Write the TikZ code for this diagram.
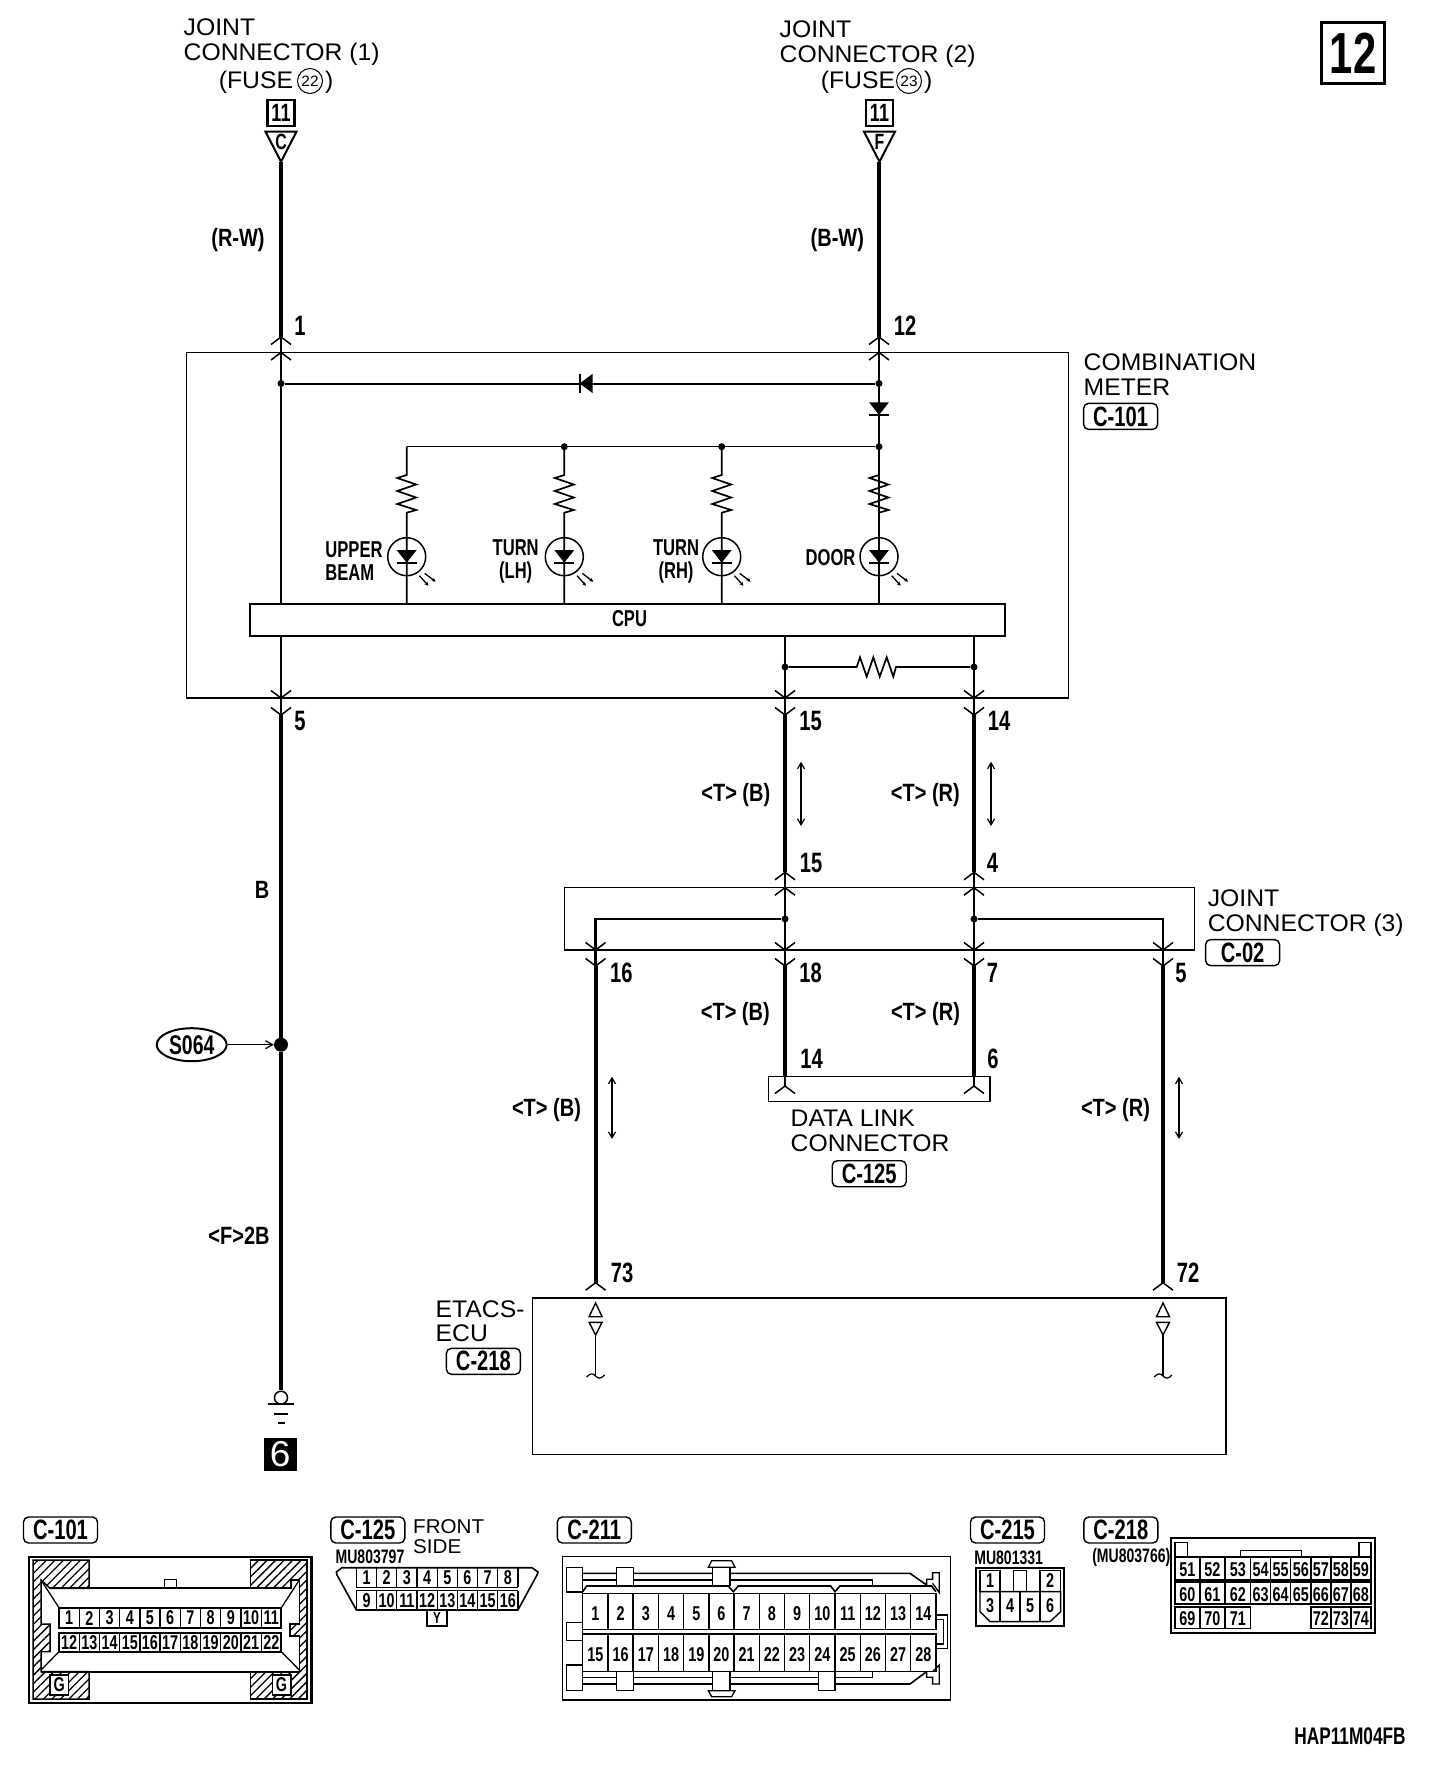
\documentclass[tikz,border=0pt]{standalone}
\usepackage{fontspec}
\setmainfont[FakeStretch=1.03]{Liberation Sans}
\newfontfamily\pinfont[FakeStretch=.72]{Liberation Sans}
\newfontfamily\wirefont[FakeStretch=.8]{Liberation Sans}
\usetikzlibrary{arrows.meta,patterns.meta,shapes.geometric}
\newcommand{\pxsize}[1]{\fontsize{#1}{#1}\selectfont}
\newcommand{\pinup}[2]{\draw[chev] (#1-10,#2+7.5) -- (#1,#2) -- (#1+10,#2+7.5);}
\newcommand{\pindown}[2]{\draw[chev] (#1-10,#2-7.5) -- (#1,#2) -- (#1+10,#2-7.5);}
\tikzset{
	nametext/.style={font=\pxsize{24},anchor=base west,inner sep=0pt},
	pinlab/.style={font=\pinfont\bfseries\pxsize{28},inner sep=0pt},
	wirelab/.style={font=\wirefont\bfseries\pxsize{25},inner sep=0pt},
	lamplab/.style={font=\pinfont\bfseries\pxsize{23},inner sep=0pt},
	cellnum/.style={font=\pinfont\bfseries\pxsize{20},inner sep=0pt},
	partnum/.style={font=\pinfont\bfseries\pxsize{19.5},inner sep=0pt},
	badge/.style={draw,line width=1.4pt,rounded corners=5pt,inner sep=0pt,minimum width=74pt,minimum height=26pt,font=\pinfont\bfseries\pxsize{28}},
	thinbox/.style={draw,line width=1.3pt,inner sep=0pt},
	wirein/.style={line width=2.4pt},
	wireout/.style={line width=3.8pt},
	chev/.style={line width=1.5pt},
	spot/.style={fill,circle,inner sep=0pt,minimum size=7pt},
	twoway/.style={line width=1.2pt,{Straight Barb[length=6pt,width=7pt]}-{Straight Barb[length=6pt,width=7pt]}},
	outline/.style={line width=1.3pt},
	hatched/.style={line width=1.5pt,pattern={Lines[angle=45,distance=6pt,line width=1.3pt]}},
}
\begin{document}
\begin{tikzpicture}[x=1pt,y=-1pt]
	\useasboundingbox (0,0) rectangle (1440,1768);

	% page number
	\node[draw,line width=2.5pt,inner sep=0pt,minimum width=63pt,minimum height=61pt,font=\pinfont\bfseries\pxsize{58}] (sheet) at (1353,53) {12};

	% sources
	\node[nametext] (joint1a) at (183.5,36) {JOINT};
	\node[nametext] (joint1b) at (183.5,61) {CONNECTOR (1)};
	\node[nametext] (joint1c) at (218.7,89) {(FUSE};
	\node[draw,circle,line width=1pt,inner sep=0pt,minimum size=25pt,font=\pxsize{15}] (fuse22) at (310,81) {22};
	\node[nametext] (joint1d) at (325,89) {)};
	\node[nametext] (joint2a) at (779.5,38) {JOINT};
	\node[nametext] (joint2b) at (779.5,63) {CONNECTOR (2)};
	\node[nametext] (joint2c) at (820.7,89) {(FUSE};
	\node[draw,circle,line width=1pt,inner sep=0pt,minimum size=25pt,font=\pxsize{15}] (fuse23) at (909,81) {23};
	\node[nametext] (joint2d) at (924,89) {)};
	\foreach \x/\m/\t in {281/a/C,879.5/b/F} {
		\node[draw,line width=2.5pt,inner sep=0pt,minimum width=27pt,minimum height=26pt,font=\pinfont\bfseries\pxsize{25}] (page\m) at (\x,113) {11};
		\draw[line width=2pt] (\x-15.5,131.7) -- (\x+15.5,131.7) -- (\x,161.7) -- cycle;
		\node[font=\pinfont\bfseries\pxsize{22},inner sep=0pt] (feed\m) at (\x,142) {\t};
	}
	\coordinate (fa) at (281,161.7);
	\coordinate (fb) at (879,161.7);
	\coordinate (pa) at (281,337);
	\coordinate (pb) at (879,337);
	\coordinate (pc) at (281,715);
	\coordinate (pd) at (785,715);
	\coordinate (pe) at (974,715);
	\draw[wireout] (fa) -- (pa);
	\draw[wireout] (fb) -- (pb);
	\node[wirelab] (colA) at (238,240) {(R-W)};
	\node[wirelab] (colB) at (837.3,240) {(B-W)};
	\node[pinlab] (pin1) at (300,326) {1};
	\node[pinlab] (pin12) at (905,326) {12};

	% combination meter
	\node[thinbox,minimum width=882pt,minimum height=345.5pt] (meter) at (627.6,525.2) {};
	\node[draw,line width=2pt,inner sep=0pt,minimum width=755.6pt,minimum height=32pt,font=\pinfont\bfseries\pxsize{23}] (cpu) at (627.5,619.7) {};
	\node[font=\pinfont\bfseries\pxsize{23},inner sep=0pt] (cpuname) at (629.5,618.5) {CPU};
	\node[nametext] (meterA) at (1083.5,370) {COMBINATION};
	\node[nametext] (meterB) at (1083.5,395) {METER};
	\node[badge] (b101) at (1120.6,416.4) {C-101};
	\foreach \x in {281,879} {
		\pinup{\x}{337}
		\pinup{\x}{352.5}
	}
	\foreach \x in {281,785,974} {
		\pindown{\x}{698}
		\pindown{\x}{715}
	}
	\node[spot] (ja) at (281,383.5) {};
	\node[spot] (jb) at (879,383.5) {};
	\draw[wirein] (pa) -- (pa |- cpu.north);
	\draw[wirein] (pb) -- (pb |- cpu.north);
	\draw[wirein] (pa |- cpu.south) -- (pc);
	\draw[wirein] (pd |- cpu.south) -- (pd);
	\draw[wirein] (pe |- cpu.south) -- (pe);
	\draw[line width=2pt] (ja) -- (jb);
	\fill (579.7,383.5) -- (592.7,373.8) -- (592.7,393.2) -- cycle;
	\draw[line width=2pt] (579.7,373.8) -- (579.7,393.2);
	\fill (869,402.3) -- (889,402.3) -- (879,415) -- cycle;
	\draw[line width=2pt] (869,415.3) -- (889,415.3);
	\coordinate (busL) at (406.7,446.7);
	\node[spot] (busR) at (879,446.7) {};
	\draw[line width=1.4pt] (busL) -- (busR);
	\foreach \x/\m in {406.7/ub,564.3/tl,721.7/tr,879/dr} {
		\draw[line width=1.7pt] (\x,446.7) -- (\x,475) -- (\x-9.5,478) -- (\x+9.5,484.5) -- (\x-9.5,491) -- (\x+9.5,497.5) -- (\x-9.5,504) -- (\x+9.5,510) -- (\x,512.7) -- (\x,603.7);
		\node[draw,circle,line width=1.5pt,inner sep=0pt,minimum size=38pt] (lamp\m) at (\x,556.7) {};
		\fill (\x-10,550) -- (\x+10,550) -- (\x,562.7) -- cycle;
		\draw[line width=2pt] (\x-10,562.7) -- (\x+10,562.7);
		\draw[line width=1.3pt,-{Stealth[length=4pt,width=4pt]}] (\x+12.7,575.7) -- (\x+21.7,585.7);
		\draw[line width=1.3pt,-{Stealth[length=4pt,width=4pt]}] (\x+18,573.4) -- (\x+29,581.7);
	}
	\node[spot] (jc) at (564.3,446.7) {};
	\node[spot] (jd) at (721.7,446.7) {};
	\node[lamplab,align=left] (labUB) at (354,561) {UPPER\\BEAM};
	\node[lamplab,align=center] (labTL) at (515.7,561) {TURN\\(LH)};
	\node[lamplab,align=center] (labTR) at (676,561) {TURN\\(RH)};
	\node[lamplab] (labDR) at (830.5,558) {DOOR};
	\node[spot] (je) at (785,667) {};
	\node[spot] (jf) at (974,667) {};
	\draw[line width=1.7pt] (je) -- (856.7,667) -- (860,657.3) -- (866.7,676.7) -- (873.3,657.3) -- (879.7,676.7) -- (886.7,657.3) -- (893.3,676.7) -- (896,667) -- (jf);
	\node[pinlab] (pin5) at (300,721) {5};
	\node[pinlab] (pin15) at (810.5,721) {15};
	\node[pinlab] (pin14) at (999,721) {14};

	% ground side
	\node[fill,circle,inner sep=0pt,minimum size=14pt] (splice) at (281,1044.7) {};
	\node[draw,circle,fill=white,line width=1.5pt,inner sep=0pt,minimum size=13pt] (ring) at (281,1397.7) {};
	\draw[wireout] (pc) -- (splice) -- (ring.north);
	\node[wirelab] (colC) at (262,890) {B};
	\node[draw,ellipse,line width=2pt,inner sep=0pt,minimum width=70pt,minimum height=33pt,font=\pinfont\bfseries\pxsize{27}] (s064) at (191.7,1044.7) {S064};
	\draw[line width=1.3pt,-{Straight Barb[length=7pt,width=8pt]}] (s064) -- (splice);
	\node[wirelab] (colD) at (239,1236) {<F>2B};
	\draw[line width=1.5pt] (268,1404) -- (294,1404);
	\draw[line width=1.8pt] (274,1413.7) -- (288,1413.7);
	\draw[line width=1.8pt] (278,1422.7) -- (285,1422.7);
	\node[fill=black,text=white,inner sep=0pt,minimum width=32.7pt,minimum height=32.7pt,font=\pxsize{36}] (gnd6) at (280.3,1454.3) {6};

	% joint connector 3
	\node[thinbox,minimum width=630pt,minimum height=62.3pt] (joint3) at (879.5,918.9) {};
	\coordinate (qd) at (785,872.3);
	\coordinate (qe) at (974,872.3);
	\coordinate (qa) at (595.6,966);
	\coordinate (qb) at (785,966);
	\coordinate (qc) at (974,966);
	\coordinate (qf) at (1163,966);
	\draw[wireout] (pd) -- (qd);
	\draw[wireout] (pe) -- (qe);
	\foreach \x in {785,974} {
		\pinup{\x}{872.3}
		\pinup{\x}{887.7}
	}
	\foreach \x in {595.6,785,974,1163} {
		\pindown{\x}{950}
		\pindown{\x}{966}
	}
	\node[spot] (jg) at (785,919) {};
	\node[spot] (jh) at (974,919) {};
	\draw[wirein] (qd) -- (qb);
	\draw[wirein] (qe) -- (qc);
	\draw[wirein] (jg) -| (qa);
	\draw[wirein] (jh) -| (qf);
	\node[wirelab] (colE) at (735.8,795.5) {<T> (B)};
	\node[wirelab] (colF) at (925.4,795.5) {<T> (R)};
	\draw[twoway] (801,761.7) -- (801,826);
	\draw[twoway] (991,761.7) -- (991,826);
	\node[pinlab] (pin15b) at (811,862.7) {15};
	\node[pinlab] (pin4) at (992.4,862.7) {4};
	\node[nametext] (joint3a) at (1207.6,906) {JOINT};
	\node[nametext] (joint3b) at (1207.6,931) {CONNECTOR (3)};
	\node[badge] (b02) at (1242.6,952.6) {C-02};
	\node[pinlab] (pin16) at (621.4,972.7) {16};
	\node[pinlab] (pin18) at (810.6,972.7) {18};
	\node[pinlab] (pin7) at (992.4,972.7) {7};
	\node[pinlab] (pin5b) at (1181,972.7) {5};

	% data link connector
	\node[thinbox,minimum width=221.5pt,minimum height=25.4pt] (dlc) at (879.2,1089) {};
	\coordinate (ra) at (785,1076.3);
	\coordinate (rb) at (974,1076.3);
	\coordinate (rc) at (785,1086);
	\coordinate (rd) at (974,1086);
	\draw[wireout] (qb) -- (ra);
	\draw[wireout] (qc) -- (rb);
	\draw[wirein] (ra) -- (rc);
	\draw[wirein] (rb) -- (rd);
	\pinup{785}{1086}
	\pinup{974}{1086}
	\node[wirelab] (colG) at (735.3,1014.5) {<T> (B)};
	\node[wirelab] (colH) at (925.5,1014.5) {<T> (R)};
	\node[pinlab] (pin14b) at (811.5,1059) {14};
	\node[pinlab] (pin6) at (993,1059) {6};
	\node[nametext] (dlcA) at (790.5,1126.7) {DATA LINK};
	\node[nametext] (dlcB) at (790.5,1151.7) {CONNECTOR};
	\node[badge] (b125) at (869.2,1173.7) {C-125};

	% etacs ecu
	\coordinate (sa) at (595.6,1282.7);
	\coordinate (sb) at (1163,1282.7);
	\draw[wireout] (qa) -- (sa);
	\draw[wireout] (qf) -- (sb);
	\pinup{595.6}{1282.7}
	\pinup{1163}{1282.7}
	\node[wirelab] (colI) at (546.5,1110) {<T> (B)};
	\node[wirelab] (colJ) at (1115.5,1110) {<T> (R)};
	\draw[twoway] (612,1076.7) -- (612,1139);
	\draw[twoway] (1179,1076.7) -- (1179,1139);
	\node[pinlab] (pin73) at (622,1273) {73};
	\node[pinlab] (pin72) at (1188,1273) {72};
	\node[thinbox,line width=1.6pt,minimum width=693.5pt,minimum height=156.6pt] (ecu) at (879.2,1376) {};
	\node[nametext] (ecuA) at (435.5,1317) {ETACS-};
	\node[nametext] (ecuB) at (435.5,1341.5) {ECU};
	\node[badge] (b218) at (483.4,1361.3) {C-218};
	\foreach \x in {595.6,1163} {
		\draw[line width=1.4pt] (\x-6.5,1316.7) -- (\x+6.5,1316.7) -- (\x,1303) -- cycle;
		\draw[line width=1.4pt] (\x-6.5,1322.3) -- (\x+6.5,1322.3) -- (\x,1335) -- cycle;
		\draw[line width=1.2pt] (\x,1335) -- (\x,1376);
		\draw[line width=1.2pt] (\x-9,1377) .. controls (\x-5,1373) and (\x-3,1373) .. (\x,1376) .. controls (\x+3,1379) and (\x+5,1379) .. (\x+9,1375);
	}

	% connector C-101
	\node[badge] (v101) at (60.5,1530) {C-101};
	\draw[line width=2.2pt] (28.6,1556.7) rectangle (311.4,1702.7);
	\draw[hatched] (33,1560) -- (89,1560) -- (89,1588.3) -- (50,1588.3) -- (41,1580) -- (41,1624) -- (50,1624) -- (50,1651.7) -- (41,1651.7) -- (41,1671.7) -- (89,1671.7) -- (89,1699) -- (33,1699) -- cycle;
	\draw[hatched] (250.7,1560) -- (307,1560) -- (307,1699) -- (250.7,1699) -- (250.7,1671.7) -- (299.3,1671.7) -- (299.3,1636) -- (290,1636) -- (290,1624) -- (299.3,1624) -- (299.3,1580) -- (291,1580) -- (291,1588.3) -- (250.7,1588.3) -- cycle;
	\draw[outline] (164.3,1588.3) -- (164.3,1579.3) -- (176.8,1579.3) -- (176.8,1588.3);
	\draw[line width=2pt] (50,1588.3) -- (291,1588.3);
	\draw[line width=2pt] (41,1671.7) -- (299.3,1671.7);
	\draw[outline] (41,1580) -- (59,1607.7);
	\draw[outline] (299.3,1580) -- (281.4,1607.7);
	\draw[outline] (59,1651.7) -- (41,1670);
	\draw[outline] (281.4,1651.7) -- (299.3,1670);
	\draw[line width=2pt] (59,1607.7) rectangle (281.4,1628.3);
	\draw[line width=2pt] (59,1632.7) rectangle (281.4,1651.7);
	\foreach \n [count=\i from 0] in {1,...,11} {
		\ifnum\i>0 \draw[outline] (59+\i*20.22,1607.7) -- (59+\i*20.22,1628.3); \fi
		\node[cellnum] (ca\n) at (69.1+\i*20.22,1618) {\n};
	}
	\foreach \n [count=\i from 0] in {12,...,22} {
		\ifnum\i>0 \draw[outline] (59+\i*20.22,1632.7) -- (59+\i*20.22,1651.7); \fi
		\node[cellnum] (ca\n) at (69.1+\i*20.22,1642.2) {\n};
	}
	\node[draw,fill=white,line width=1.5pt,inner sep=0pt,minimum width=18.5pt,minimum height=20pt,font=\pinfont\bfseries\pxsize{20}] (g1) at (59.3,1685) {G};
	\node[draw,fill=white,line width=1.5pt,inner sep=0pt,minimum width=18.5pt,minimum height=20pt,font=\pinfont\bfseries\pxsize{20}] (g2) at (281.5,1685) {G};

	% connector C-125
	\node[badge] (v125) at (367.8,1530) {C-125};
	\node[font=\pxsize{20},anchor=base west,inner sep=0pt] (frontA) at (413,1533.5) {FRONT};
	\node[font=\pxsize{20},anchor=base west,inner sep=0pt] (frontB) at (413,1553) {SIDE};
	\node[partnum] (mu797) at (370,1556.7) {MU803797};
	\draw[line width=1.6pt] (356.4,1610) -- (337,1575) -- (336.4,1572) -- (342,1567.7) -- (532,1567.7) -- (538,1572) -- (537,1575) -- (517.9,1610) -- cycle;
	\draw[outline] (356.4,1587.3) -- (517.9,1587.3);
	\draw[outline] (356.4,1590.7) -- (517.9,1590.7);
	\foreach \n [count=\i from 0] in {1,...,8} {
		\draw[outline] (356.4+\i*20.19,1567.7) -- (356.4+\i*20.19,1587.3);
		\node[cellnum] (cb\n) at (366.5+\i*20.19,1577.5) {\n};
	}
	\draw[outline] (517.9,1567.7) -- (517.9,1587.3);
	\foreach \n [count=\i from 0] in {9,...,16} {
		\draw[outline] (356.4+\i*20.19,1590.7) -- (356.4+\i*20.19,1610);
		\node[cellnum] (cb\n) at (366.5+\i*20.19,1600.5) {\n};
	}
	\draw[outline] (517.9,1590.7) -- (517.9,1610);
	\node[draw,line width=1.5pt,inner sep=0pt,minimum width=20.2pt,minimum height=16pt,font=\pinfont\bfseries\pxsize{16}] (tabY) at (436.9,1618) {Y};

	% connector C-211
	\node[badge] (v211) at (594.3,1530) {C-211};
	\begin{scope}[shift={(540,1480)},x=.3333pt,y=-.3333pt]
		\draw[outline] (68,230) rectangle (1232,660);
		\draw[line width=1.6pt] (128,280) -- (1110,280) -- (1160,315);
		\draw[line width=1.6pt] (128,300) -- (998,300) -- (998,318);
		\draw[line width=1.6pt] (128,593) -- (998,593) -- (998,575);
		\draw[line width=1.6pt] (128,612) -- (1110,612) -- (1160,575);
		\draw[outline,fill=white] (518,318) -- (518,262) -- (570,262) -- (570,318);
		\draw[outline,fill=white] (518,575) -- (518,632) -- (570,632) -- (570,575);
		\draw[outline] (505,262) -- (515,242) -- (575,242) -- (585,262) -- cycle;
		\draw[outline] (505,632) -- (515,650) -- (575,650) -- (585,632) -- cycle;
		\foreach \a/\b/\c/\d in {80/262/128/336,230/262/280/318,80/428/128/482,80/555/128/632,230/575/280/632,835/575/885/632} {
			\draw[outline,fill=white] (\a,\b) rectangle (\c,\d);
		}
		\draw[line width=1.6pt] (128,335) -- (140,318) -- (565,318) -- (580,335) -- (595,318) -- (872,318) -- (885,335) -- (900,318) -- (1175,318) -- (1188,335);
		\draw[line width=1.6pt] (128,340) rectangle (1188,448);
		\draw[line width=1.6pt] (128,462) rectangle (1188,575);
		\draw[outline] (1188,405) -- (1222,405) -- (1222,505) -- (1188,505);
		\draw[outline] (1188,418) -- (1210,418) -- (1210,492) -- (1188,492);
		\draw[outline] (1160,315) -- (1160,298) -- (1178,298) -- (1178,278) -- (1198,278) -- (1198,338) -- (1178,310);
		\draw[outline] (1160,575) -- (1160,592) -- (1178,592) -- (1178,612) -- (1198,612) -- (1198,555) -- (1178,575);
		\foreach \n [count=\i from 0] in {1,...,14} {
			\ifnum\i>0 \draw[line width=1.4pt] (128+\i*75.7,340) -- (128+\i*75.7,448); \fi
			\node[cellnum] (cc\n) at (166+\i*75.7,400) {\n};
		}
		\foreach \n [count=\i from 0] in {15,...,28} {
			\ifnum\i>0 \draw[line width=1.4pt] (128+\i*75.7,462) -- (128+\i*75.7,575); \fi
			\node[cellnum] (cc\n) at (166+\i*75.7,523) {\n};
		}
	\end{scope}

	% connector C-215
	\node[badge] (v215) at (1007.5,1530) {C-215};
	\begin{scope}[shift={(960,1500)},x=.3333pt,y=-.3333pt]
		\node[partnum] (mu331) at (146,172) {MU801331};
		\draw[line width=2pt] (47,203) rectangle (313,378);
		\draw[line width=1.4pt] (60,212) rectangle (120,275);
		\draw[line width=1.4pt] (240,212) rectangle (302,275);
		\draw[line width=1.4pt] (160,275) -- (160,212) -- (200,212) -- (200,275);
		\draw[line width=1.4pt] (60,275) -- (60,335) -- (90,365) -- (270,365) -- (302,335) -- (302,275) -- cycle;
		\draw[line width=1.4pt] (120,275) -- (120,365);
		\draw[line width=1.4pt] (180,275) -- (180,365);
		\draw[line width=1.4pt] (240,275) -- (240,365);
		\foreach \n/\a/\b in {1/90/243,2/270/243,3/90/318,4/150/318,5/210/318,6/270/318} {
			\node[cellnum] (cd\n) at (\a,\b) {\n};
		}
	\end{scope}

	% connector C-218
	\node[badge] (v218) at (1120.8,1530) {C-218};
	\begin{scope}[shift={(960,1500)},x=.3333pt,y=-.3333pt]
		\node[partnum] (mu766) at (514,172) {(MU803766)};
		\draw[line width=1.8pt] (632,115) rectangle (1246,398);
		\draw[outline] (645,170) rectangle (682,128);
		\draw[outline] (1197,170) rectangle (1233,128);
		\draw[outline] (842,170) rectangle (1025,152);
		\foreach \n/\a/\b in {51/645/720,52/720/795,53/795/872,54/872/932,55/932/992,56/992/1053,57/1053/1113,58/1113/1173,59/1173/1233} {
			\draw[outline] (\a,172) rectangle (\b,240);
			\draw[line width=2.2pt] (\a,172) -- (\b,172);
			\node[cellnum] (ce\n) at ({(\a+\b)/2},210) {\n};
		}
		\foreach \n/\a/\b in {60/645/720,61/720/795,62/795/872,63/872/932,64/932/992,65/992/1053,66/1053/1113,67/1113/1173,68/1173/1233} {
			\draw[outline] (\a,245) rectangle (\b,312);
			\draw[line width=2.2pt] (\a,245) -- (\b,245);
			\node[cellnum] (ce\n) at ({(\a+\b)/2},284) {\n};
		}
		\foreach \n/\a/\b in {69/645/720,70/720/795,71/795/872,72/1053/1113,73/1113/1173,74/1173/1233} {
			\draw[outline] (\a,320) rectangle (\b,385);
			\draw[line width=2.2pt] (\a,320) -- (\b,320);
			\node[cellnum] (ce\n) at ({(\a+\b)/2},355) {\n};
		}
	\end{scope}

	\node[font=\pinfont\bfseries\pxsize{24},inner sep=0pt] (code) at (1350,1736.3) {HAP11M04FB};
\end{tikzpicture}
\end{document}
